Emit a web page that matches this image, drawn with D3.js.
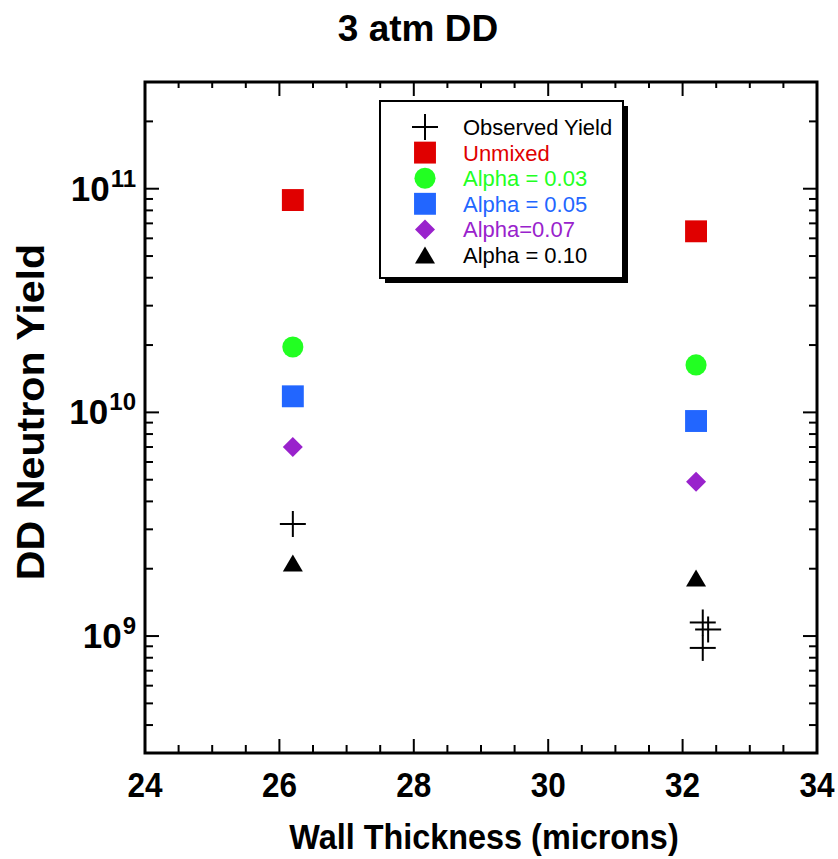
<!DOCTYPE html>
<html>
<head>
<meta charset="utf-8">
<script src="https://cdn.jsdelivr.net/npm/d3@7"></script>
<style>
  body { margin: 0; background: #fff; }
  svg, text { font-family: "Liberation Sans", Arial, Helvetica, sans-serif; }
</style>
</head>
<body>
<div id="chart"></div>
<script>
// wall thickness of the two capsule types
const thickness = [26.2, 32.2]
// simulated yields
const unmixed = [8.9e10, 6.45e10]
const alpha003 = [1.96e10, 1.63e10]
const alpha005 = [1.18e10, 9.15e9]
const alpha007 = [7.0e9, 4.9e9]
const alpha010 = [2.12e9, 1.82e9]
// observed shots
const observedX = [26.2, 32.3, 32.38, 32.3]
const observedY = [3.17e9, 1.15e9, 1.07e9, 8.85e8]

const xTicks = [24, 26, 28, 30, 32, 34]
const yTicks = [1e9, 1e10, 1e11]

const width = 838
const height = 859
const margin = { top: 82, right: 21, bottom: 106, left: 145 }
const font = '"Liberation Sans", Arial, Helvetica, sans-serif'

const x = d3.scaleLinear().domain([24, 34]).range([margin.left, width - margin.right])
const y = d3.scaleLog().domain([3e8, 3e11]).range([height - margin.bottom, margin.top])

const svg = d3.select('#chart').append('svg')
  .attr('width', width)
  .attr('height', height)
  .attr('font-family', font)

// 刻度线 (inward, on all four sides)
const xMinor = d3.range(24, 34.01, 0.5).filter(v => !xTicks.includes(v))
const yMinor = []
;[1e8, 1e9, 1e10, 1e11].forEach(p => {
  for (let k = 2; k <= 9; k++) {
    const v = k * p
    if (v > 3e8 && v < 3e11) yMinor.push(v)
  }
})

const ticks = svg.append('g').attr('stroke', 'black').attr('stroke-width', 2)
const x0 = x.range()[0], x1 = x.range()[1]
const y0 = y.range()[0], y1 = y.range()[1]

xTicks.forEach(v => {
  ticks.append('line').attr('x1', x(v)).attr('x2', x(v)).attr('y1', y0).attr('y2', y0 - 14)
  ticks.append('line').attr('x1', x(v)).attr('x2', x(v)).attr('y1', y1).attr('y2', y1 + 14)
})
xMinor.forEach(v => {
  ticks.append('line').attr('x1', x(v)).attr('x2', x(v)).attr('y1', y0).attr('y2', y0 - 8)
  ticks.append('line').attr('x1', x(v)).attr('x2', x(v)).attr('y1', y1).attr('y2', y1 + 6)
})
yTicks.forEach(v => {
  ticks.append('line').attr('y1', y(v)).attr('y2', y(v)).attr('x1', x0).attr('x2', x0 + 14)
  ticks.append('line').attr('y1', y(v)).attr('y2', y(v)).attr('x1', x1).attr('x2', x1 - 14)
})
yMinor.forEach(v => {
  ticks.append('line').attr('y1', y(v)).attr('y2', y(v)).attr('x1', x0).attr('x2', x0 + 8)
  ticks.append('line').attr('y1', y(v)).attr('y2', y(v)).attr('x1', x1).attr('x2', x1 - 8)
})

// frame
svg.append('rect')
  .attr('x', x0).attr('y', y1)
  .attr('width', x1 - x0).attr('height', y0 - y1)
  .attr('fill', 'none').attr('stroke', 'black').attr('stroke-width', 3)

// tick labels (condensed bold)
svg.append('g').selectAll('text')
  .data(xTicks)
  .join('text')
  .attr('text-anchor', 'middle')
  .attr('font-size', 35)
  .attr('font-weight', 'bold')
  .attr('transform', d => `translate(${x(d)},${y0 + 44}) scale(0.9,1)`)
  .text(d => d)

// y labels: base "10" plus exponent, right aligned
const yl = svg.append('g')
  .attr('font-weight', 'bold')
  .selectAll('g')
  .data(yTicks)
  .join('g')
  .attr('transform', d => `translate(0,${y(d)})`)
yl.each(function(d) {
  const g = d3.select(this)
  const ex = g.append('text')
    .attr('x', 136).attr('y', -2)
    .attr('text-anchor', 'end')
    .attr('font-size', 24)
    .text(Math.round(Math.log10(d)))
  const w = ex.node().getComputedTextLength()
  g.append('text')
    .attr('x', 136 - w - 1).attr('y', 12)
    .attr('text-anchor', 'end')
    .attr('font-size', 35)
    .text('10')
})

// titles
svg.append('text')
  .attr('x', 418).attr('y', 41)
  .attr('text-anchor', 'middle')
  .attr('font-size', 37).attr('font-weight', 'bold')
  .text('3 atm DD')

svg.append('text')
  .attr('text-anchor', 'middle')
  .attr('font-size', 36).attr('font-weight', 'bold')
  .attr('transform', 'translate(484,849) scale(0.9,1)')
  .text('Wall Thickness (microns)')

svg.append('text')
  .attr('transform', `translate(44,412) rotate(-90) scale(1.03,0.95)`)
  .attr('text-anchor', 'middle')
  .attr('font-size', 40).attr('font-weight', 'bold')
  .text('DD Neutron Yield')

// 符号
const triangle = {
  draw(ctx, size) {
    const w = Math.sqrt(size * 2 / 0.85)
    const h = w * 0.85
    ctx.moveTo(0, -h / 2)
    ctx.lineTo(w / 2, h / 2)
    ctx.lineTo(-w / 2, h / 2)
    ctx.closePath()
  }
}
const diamond = {
  draw(ctx, size) {
    const r = Math.sqrt(size / 2)
    ctx.moveTo(0, -r)
    ctx.lineTo(r, 0)
    ctx.lineTo(0, r)
    ctx.lineTo(-r, 0)
    ctx.closePath()
  }
}
const series = [
  { name: 'Unmixed', values: unmixed, color: '#e00000', type: d3.symbolSquare, size: 480 },
  { name: 'Alpha = 0.03', values: alpha003, color: '#22ff22', type: d3.symbolCircle, size: 350 },
  { name: 'Alpha = 0.05', values: alpha005, color: '#2266ff', type: d3.symbolSquare, size: 480 },
  { name: 'Alpha=0.07', values: alpha007, color: '#9922cc', type: diamond, size: 200 },
  { name: 'Alpha = 0.10', values: alpha010, color: '#000000', type: triangle, size: 170 }
]

const plot = svg.append('g')
series.forEach(s => {
  plot.append('g').selectAll('path')
    .data(s.values)
    .join('path')
    .attr('transform', (d, i) => `translate(${x(thickness[i])},${y(d)})`)
    .attr('d', d3.symbol(s.type, s.size))
    .attr('fill', s.color)
})

plot.append('g')
  .attr('stroke', 'black').attr('stroke-width', 2)
  .selectAll('g')
  .data(observedY)
  .join('g')
  .attr('transform', (d, i) => `translate(${x(observedX[i])},${y(d)})`)
  .call(g => g.append('line').attr('x1', -13).attr('x2', 13))
  .call(g => g.append('line').attr('y1', -13).attr('y2', 13))

// legend
const lg = svg.append('g').attr('transform', 'translate(380,101)')
lg.append('rect').attr('x', 5).attr('y', 5).attr('width', 243).attr('height', 177).attr('fill', 'black')
lg.append('rect').attr('x', 0).attr('y', 0).attr('width', 243).attr('height', 177)
  .attr('fill', 'white').attr('stroke', 'black').attr('stroke-width', 2)

const rowY = i => 26 + i * 25.6
const symX = 45
const obs = lg.append('g').attr('stroke', 'black').attr('stroke-width', 2)
obs.append('line').attr('x1', symX - 13).attr('x2', symX + 13).attr('y1', rowY(0)).attr('y2', rowY(0))
obs.append('line').attr('x1', symX).attr('x2', symX).attr('y1', rowY(0) - 13).attr('y2', rowY(0) + 13)
lg.append('text').attr('x', 83).attr('y', rowY(0) + 8).attr('font-size', 22).text('Observed Yield')

series.forEach((s, i) => {
  lg.append('path')
    .attr('transform', `translate(${symX},${rowY(i + 1)})`)
    .attr('d', d3.symbol(s.type, s.size))
    .attr('fill', s.color)
  lg.append('text')
    .attr('x', 83).attr('y', rowY(i + 1) + 8)
    .attr('font-size', 22)
    .attr('fill', s.color)
    .text(s.name)
})
</script>
</body>
</html>
